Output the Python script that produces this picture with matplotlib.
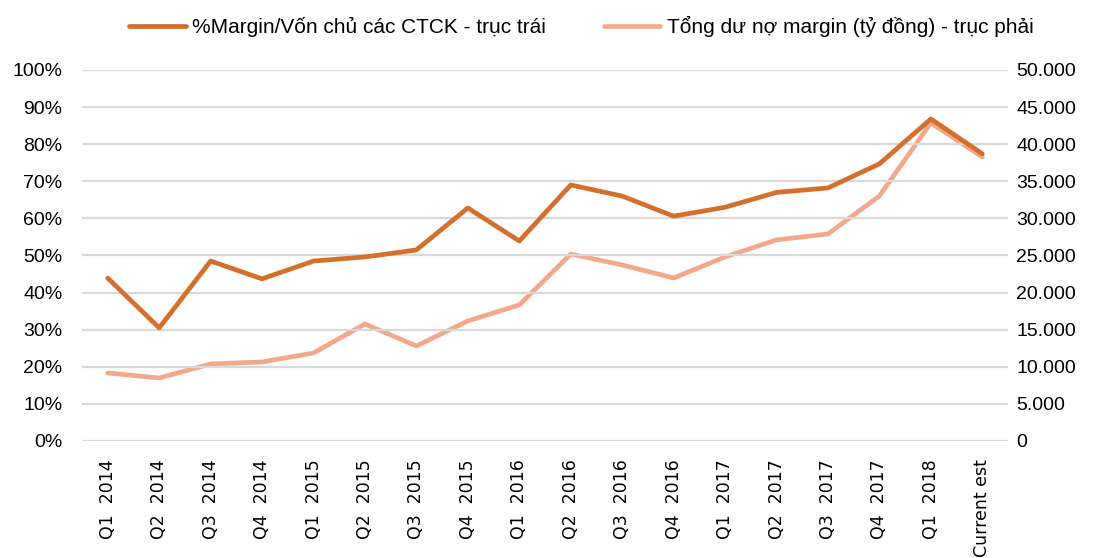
import matplotlib
matplotlib.use("Agg")
from matplotlib import pyplot as plt
from matplotlib.ticker import FuncFormatter

quarters = ["Q1  2014", "Q2  2014", "Q3  2014", "Q4  2014",
            "Q1  2015", "Q2  2015", "Q3  2015", "Q4  2015",
            "Q1  2016", "Q2  2016", "Q3  2016", "Q4  2016",
            "Q1  2017", "Q2  2017", "Q3  2017", "Q4  2017",
            "Q1  2018", "Current est"]

# % margin / equity of securities companies (left axis)
margin_pct = [43.9, 30.5, 48.5, 43.7, 48.5, 49.6, 51.5, 62.8, 53.9,
              69.0, 66.0, 60.6, 63.0, 67.0, 68.2, 74.7, 86.8, 77.4]

# total margin debt, billion VND (right axis)
margin_debt = [9170, 8490, 10380, 10650, 11860, 15770, 12800, 16180, 18330,
               25200, 23720, 21970, 24800, 27100, 27900, 33030, 42870, 38280]

label_left = "%Margin/Vốn chủ các CTCK - trục trái"
label_right = "Tổng dư nợ margin (tỷ đồng) - trục phải"

dark = "#D5702C"
light = "#F2A98B"
grid_col = "#D9D9D9"
txt_font = ["Liberation Sans Narrow", "Liberation Sans", "DejaVu Sans"]


def main():
    fig = plt.figure(figsize=(10.95, 5.58), dpi=100)
    ax = fig.add_axes([0.0749, 0.2097, 0.8457, 0.6649])
    ax2 = ax.twinx()

    x = list(range(len(quarters)))
    l2, = ax2.plot(x, margin_debt, color=light, lw=3.4, solid_capstyle="round",
                   label=label_right, zorder=2)
    l1, = ax.plot(x, margin_pct, color=dark, lw=3.4, solid_capstyle="round",
                  label=label_left, zorder=3)
    ax.set_zorder(ax2.get_zorder() + 1)
    ax.patch.set_visible(False)

    ax.set_ylim(0, 100)
    ax2.set_ylim(0, 50000)
    ax.set_xlim(-0.5, len(quarters) - 0.5)
    ax.set_yticks(range(0, 101, 10))
    ax2.set_yticks(range(0, 50001, 5000))
    ax.yaxis.set_major_formatter(FuncFormatter(lambda v, p: f"{int(v)}%"))
    ax2.yaxis.set_major_formatter(
        FuncFormatter(lambda v, p: f"{int(v):,}".replace(",", ".")))

    ax.grid(axis="y", color=grid_col, lw=1.6)
    ax.set_axisbelow(True)
    for a in (ax, ax2):
        for s in a.spines.values():
            s.set_visible(False)
        a.tick_params(length=0)

    ax.set_xticks(x)
    ax.set_xticklabels(quarters, rotation=90)
    for lab in ax.get_xticklabels():
        lab.set_fontfamily("DejaVu Sans")
        lab.set_fontsize(12.5)
    ax.tick_params(axis="x", pad=13)
    for lab in ax.get_yticklabels() + ax2.get_yticklabels():
        lab.set_fontfamily(txt_font)
        lab.set_fontsize(14)
    ax.tick_params(axis="y", pad=14)
    ax2.tick_params(axis="y", pad=6)

    fig.legend(handles=[l1, l2], loc="upper center", bbox_to_anchor=(0.531, 1.005),
               ncol=2, frameon=False, handlelength=2.7, handletextpad=0.3,
               columnspacing=2.8, prop={"family": txt_font, "size": 15})

    fig.savefig("out.png", dpi=100)


main()
